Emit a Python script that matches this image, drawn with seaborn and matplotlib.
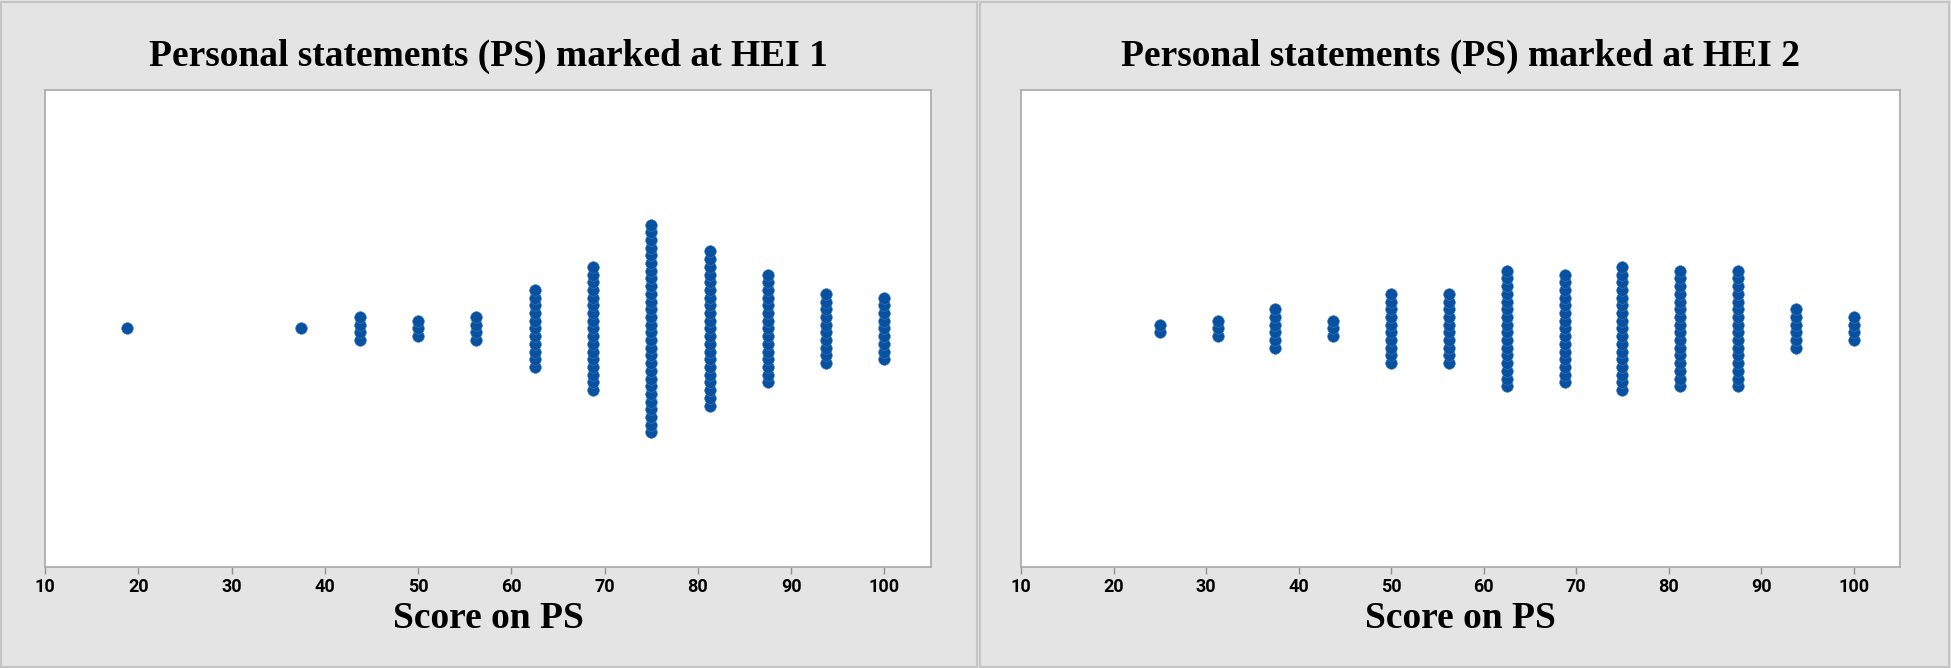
import numpy as np
import pandas as pd
import matplotlib
matplotlib.use("Agg")
import matplotlib.pyplot as plt
from matplotlib.patches import Rectangle
import seaborn as sns

sns.set_style("white")

# Score values on the personal statement (PS) and number of dots stacked at each
scores_hei1 = [18.75, 37.5, 43.75, 50, 56.25, 62.5, 68.75, 75, 81.25, 87.5, 93.75, 100]
counts_hei1 = [1, 1, 4, 3, 4, 11, 17, 28, 21, 15, 10, 9]

scores_hei2 = [25, 31.25, 37.5, 43.75, 50, 56.25, 62.5, 68.75, 75, 81.25, 87.5, 93.75, 100]
counts_hei2 = [2, 3, 6, 3, 10, 10, 16, 15, 17, 16, 16, 6, 4]

titles = ["Personal statements (PS) marked at HEI 1",
          "Personal statements (PS) marked at HEI 2"]
xticks = [10, 20, 30, 40, 50, 60, 70, 80, 90, 100]
xlabel = "Score on PS"

DOT = "#0850a0"
W, H = 1951, 668


def stack_dots(scores, counts, step):
    """Expand counts into individual observations stacked around y = 0."""
    rows = []
    for s, n in zip(scores, counts):
        for i in range(n):
            rows.append({"score": s, "pos": (i - (n - 1) / 2) * step})
    return pd.DataFrame(rows)


fig = plt.figure(figsize=(W / 100, H / 100), dpi=100)
fig.patch.set_facecolor("#e4e4e4")

# panel frames
for x0, x1 in [(1, 977), (980, 1949)]:
    fig.add_artist(Rectangle((x0 / W, 1 / H), (x1 - x0) / W, (H - 3) / H,
                             transform=fig.transFigure, facecolor="#e4e4e4",
                             edgecolor="#c4c4c4", linewidth=1.5, zorder=0))

panels = [
    (scores_hei1, counts_hei1, 45, 931),
    (scores_hei2, counts_hei2, 1021, 1900),
]
top_px, bottom_px = 90, 567
ax_h_px = bottom_px - top_px
step = 7.7 / ax_h_px * 2  # ylim spans 2 units

for k, (scores, counts, left_px, right_px) in enumerate(panels):
    ax = fig.add_axes([left_px / W, (H - bottom_px) / H,
                       (right_px - left_px) / W, ax_h_px / H])
    df = stack_dots(scores, counts, step)
    sns.scatterplot(data=df, x="score", y="pos", ax=ax, color=DOT, s=70,
                    edgecolor="#3a78bb", linewidth=0.4, legend=False)
    ax.set_xlim(10, 105)
    ax.set_ylim(-1, 1)
    ax.set_yticks([])
    ax.set_xticks(xticks)
    ax.set_xticklabels([str(t) for t in xticks], family="Roboto",
                       fontweight="bold", fontsize=13, color="black")
    ax.tick_params(axis="x", direction="out", length=5, width=1,
                   color="#909090", pad=3, bottom=True)
    for sp in ax.spines.values():
        sp.set_color("#a8a8a8")
        sp.set_linewidth(1.2)
    ax.set_xlabel("")
    ax.set_ylabel("")
    ax.set_facecolor("white")

    cx = (left_px + right_px) / 2 / W
    fig.text(cx, 1 - 56 / H, titles[k], ha="center", va="center",
             family="Liberation Serif", fontweight="bold", fontsize=27,
             color="black")
    fig.text(cx, 1 - 618 / H, xlabel, ha="center", va="center",
             family="Liberation Serif", fontweight="bold", fontsize=27,
             color="black")

fig.savefig("out.png", dpi=100, facecolor=fig.get_facecolor())
